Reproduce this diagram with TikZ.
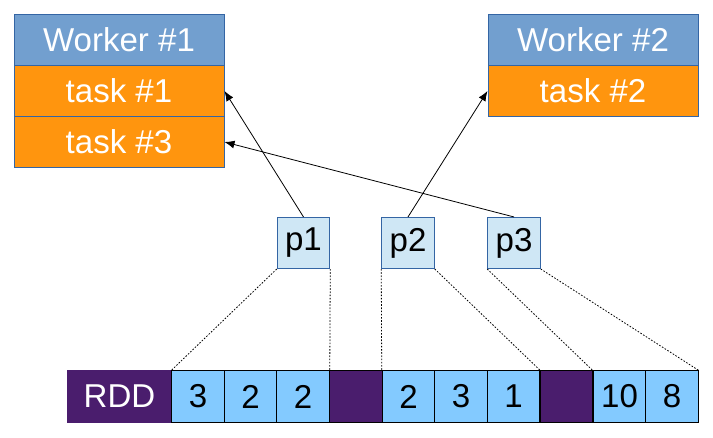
\documentclass[tikz,border=0pt]{standalone}
\usepackage{fontspec}
\setmainfont{Liberation Sans}
\usetikzlibrary{arrows.meta}

\definecolor{headblue}{HTML}{729FCF}
\definecolor{taskorange}{HTML}{FF950E}
\definecolor{edgeblue}{HTML}{3465A4}
\definecolor{partblue}{HTML}{CFE7F5}
\definecolor{cellblue}{HTML}{83CAFF}
\definecolor{rddpurple}{HTML}{4A1D6D}

\begin{document}
\begin{tikzpicture}[x=0.75pt,y=0.75pt,yscale=-1,xscale=1,
  bigtext/.style={font=\fontsize{24.8}{28}\selectfont, inner sep=0pt},
  worker/.style={bigtext, draw=edgeblue, line width=0.75pt, fill=headblue, text=white, minimum width=157.5pt, minimum height=38.6pt},
  task/.style={worker, fill=taskorange},
  part/.style={bigtext, draw=edgeblue, line width=0.75pt, fill=partblue, minimum width=39.4pt, minimum height=38.3pt},
  cell/.style={bigtext, draw=black, line width=0.75pt, fill=cellblue, minimum width=39.4pt, minimum height=38.3pt},
  gap/.style={cell, fill=rddpurple},
  link/.style={line width=0.6pt, -{Latex[length=7.5pt,width=6pt]}},
  span/.style={line width=0.6pt, dash pattern=on 1.2pt off 1.2pt}]
\useasboundingbox (0,0) rectangle (713,438);

% Workers
\node [worker] (w1) at (119,40) {Worker \#1};
\node [task] (t1) at (119,91) {task \#1};
\node [task] (t3) at (119,142) {task \#3};
\node [worker] (w2) at (593,40) {Worker \#2};
\node [task] (t2) at (593,91) {task \#2};

% Partitions
\node [part] (p1) at (303.5,243) {p1};
\node [part] (p2) at (408,243) {p2};
\node [part] (p3) at (514,243) {p3};

% RDD row
\node [gap, text=white, minimum width=78.75pt, draw=rddpurple] (rdd) at (119.5,396.5) {RDD};
\node [cell] (c1) at (198,396.5) {3};
\node [cell] (c2) at (250.5,396.5) {2};
\node [cell] (c3) at (303,396.5) {2};
\node [gap] (g1) at (356,396.5) {};
\node [cell] (c4) at (408.5,396.5) {2};
\node [cell] (c5) at (461,396.5) {3};
\node [cell] (c6) at (513.5,396.5) {1};
\node [gap] (g2) at (566.5,396.5) {};
\node [cell] (c7) at (619.5,396.5) {10};
\node [cell] (c8) at (672,396.5) {8};

% Partition to task
\draw [link] (p1.north) -- (t1.east);
\draw [link] (p2.north) -- (t2.west);
\draw [link] (p3.north) -- (t3.east);

% Partition spans
\draw [span] (p1.south west) -- (c1.north west);
\draw [span] (p1.south east) -- (c3.north east);
\draw [span] (p2.south west) -- (c4.north west);
\draw [span] (p2.south east) -- (c6.north east);
\draw [span] (p3.south west) -- (c7.north west);
\draw [span] (p3.south east) -- (c8.north east);

\end{tikzpicture}
\end{document}
